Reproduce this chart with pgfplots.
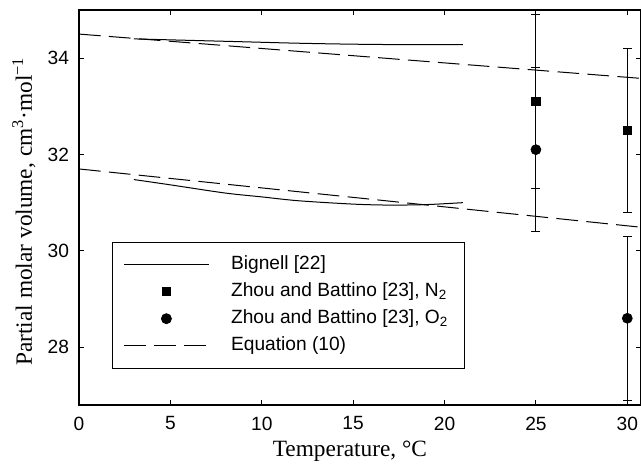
\documentclass[border=0pt]{standalone}
\usepackage{fontspec}
\setmainfont{Liberation Serif}
\newfontfamily\sansf{Liberation Sans}
\usepackage{pgfplots}
\pgfplotsset{compat=1.18}
\pgfplotstableread{
x y
3 34.40
6 34.37
9 34.34
12 34.31
15 34.29
18 34.28
21 34.28
}\bigupper
\pgfplotstableread{
x y
3 31.48
5 31.37
8 31.20
10 31.12
12 31.04
15 30.97
17 30.95
19 30.96
21 31.00
}\biglower
\pgfplotstableread{
x y e
25 33.1 1.8
30 32.5 1.7
}\ntwo
\pgfplotstableread{
x y e
25 32.1 1.7
30 28.6 1.7
}\otwo
\pgfplotstableread{
x y
0 34.50
30.75 33.58
}\equpper
\pgfplotstableread{
x y
0 31.70
30.75 30.49
}\eqlower
\begin{document}
\begin{tikzpicture}
\begin{axis}[
  scale only axis, width=337.2pt, height=237pt,
  xmin=0, xmax=30.75, ymin=26.8, ymax=35,
  xtick={0,5,...,30}, ytick={28,30,32,34},
  tick align=inside, major tick length=3pt,
  xtick pos=both, ytick pos=both,
  tick label style={font=\sansf\fontsize{11.5}{13}\selectfont},
  xticklabel style={yshift=-3.5pt},
  yticklabel style={xshift=-2.5pt},
  /pgf/number format/assume math mode=true,
  axis line style={line width=0.7pt},
  every tick/.style={black, line width=0.6pt},
  xlabel={Temperature, °C},
  ylabel={Partial molar volume, cm\textsuperscript{3}·mol\textsuperscript{−1}},
  label style={font=\fontsize{14}{16}\selectfont},
  xlabel style={at={(axis description cs:0.482,-0.131)}, anchor=base},
  ylabel style={at={(axis description cs:-0.084,0.49)}, anchor=base},
  legend cell align=left,
  legend image code/.code={\draw[mark repeat=2,mark phase=2,#1] plot coordinates {(0pt,0pt)(25.5pt,0pt)(51pt,0pt)};},
  legend style={at={(axis description cs:0.0587,0.413)}, anchor=north west,
    draw=black, line width=0.5pt, font=\sansf\fontsize{11.5}{13}\selectfont,
    inner xsep=6.6pt, inner ysep=7.2pt, row sep=3.7pt, column sep=13pt,
    nodes={inner sep=0pt, text height=9pt, text depth=3.5pt}},
]
\addplot[black, line width=0.6pt, smooth] table[x=x,y=y] {\bigupper};
\addlegendentry{Bignell [22]}
\addplot[black, only marks, mark=square*, mark size=2.5pt,
  error bars/.cd, y dir=both, y explicit,
  error bar style={line width=0.6pt, black},
  error mark options={rotate=90, mark size=2.7pt, black, line width=0.6pt}]
  table[x=x,y=y,y error=e] {\ntwo};
\addlegendentry{Zhou and Battino [23], N\textsubscript{2}\hspace*{4pt}}
\addplot[black, only marks, mark=*, mark size=3pt,
  error bars/.cd, y dir=both, y explicit,
  error bar style={line width=0.6pt, black},
  error mark options={rotate=90, mark size=2.7pt, black, line width=0.6pt}]
  table[x=x,y=y,y error=e] {\otwo};
\addlegendentry{Zhou and Battino [23], O\textsubscript{2}}
\addplot[black, line width=0.6pt, dash pattern=on 13pt off 5pt] table[x=x,y=y] {\equpper};
\addlegendentry{Equation (10)}
\addplot[black, line width=0.6pt, smooth, forget plot] table[x=x,y=y] {\biglower};
\addplot[black, line width=0.6pt, dash pattern=on 13pt off 5pt, forget plot] table[x=x,y=y] {\eqlower};
\end{axis}
\pgfresetboundingbox
\path ([xshift=-47.4pt,yshift=-35.4pt]current axis.south west) rectangle ([yshift=6pt]current axis.north east);
\end{tikzpicture}
\end{document}
